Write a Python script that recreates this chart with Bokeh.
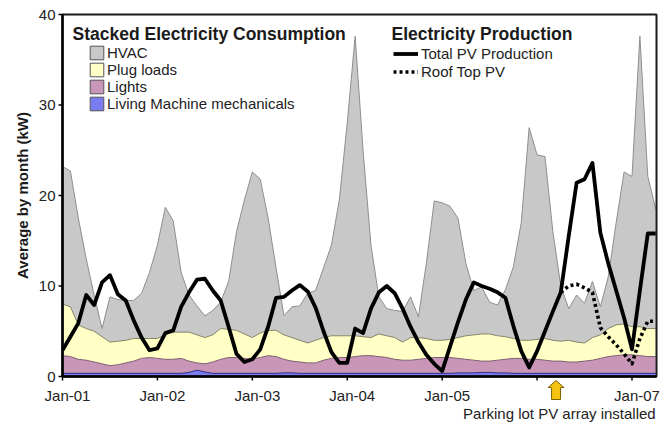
import math
from bokeh.plotting import figure
from bokeh.models import (ColumnDataSource, Range1d, Legend, LegendItem, Label)
from bokeh.core.properties import value
from bokeh.transform import stack
from bokeh.embed import file_html
from bokeh.resources import INLINE

# Monthly averages (kW), month index 0 = Jan-2001
months = list(range(76))

living = [0.35, 0.35, 0.35, 0.35, 0.35, 0.35, 0.35, 0.35, 0.35, 0.35, 0.35, 0.35,
          0.35, 0.35, 0.35, 0.35, 0.45, 0.70, 0.50, 0.35, 0.35, 0.35, 0.35, 0.35,
          0.35, 0.35, 0.35, 0.35, 0.40, 0.40, 0.35, 0.35, 0.35, 0.35, 0.35, 0.35,
          0.35, 0.35, 0.35, 0.35, 0.35, 0.35, 0.35, 0.35, 0.35, 0.35, 0.35, 0.35,
          0.35, 0.35, 0.40, 0.40, 0.40, 0.45, 0.45, 0.40, 0.40, 0.35, 0.35, 0.35,
          0.35, 0.35, 0.35, 0.35, 0.35, 0.35, 0.35, 0.35, 0.35, 0.35, 0.35, 0.35,
          0.35, 0.35, 0.35, 0.35]

lights = [1.95, 1.85, 1.55, 1.45, 1.25, 1.05, 0.85, 0.95, 1.15, 1.35, 1.65, 1.75,
          1.65, 1.55, 1.55, 1.65, 1.25, 0.80, 0.90, 1.25, 1.55, 1.75, 1.75, 1.65,
          1.55, 1.75, 1.95, 1.85, 1.50, 1.30, 1.25, 1.15, 1.15, 1.45, 1.65, 1.75,
          1.75, 1.85, 1.95, 1.95, 1.85, 1.75, 1.55, 1.45, 1.45, 1.55, 1.65, 1.75,
          1.75, 1.75, 1.60, 1.50, 1.40, 1.25, 1.25, 1.40, 1.50, 1.65, 1.65, 1.55,
          1.55, 1.45, 1.35, 1.35, 1.25, 1.25, 1.35, 1.45, 1.65, 1.85, 1.95, 2.05,
          2.05, 1.95, 1.85, 1.85]

plug = [5.7, 5.5, 3.8, 3.5, 3.4, 3.0, 2.6, 2.6, 2.5, 2.5, 2.2, 2.1,
        2.2, 2.7, 3.0, 2.9, 3.2, 3.1, 2.9, 3.0, 3.4, 3.1, 3.0, 2.7,
        2.4, 2.7, 2.8, 2.9, 2.7, 2.6, 2.4, 2.2, 2.5, 2.5, 2.5, 2.4,
        2.4, 2.3, 2.1, 2.0, 2.5, 2.4, 2.4, 2.0, 2.5, 2.4, 2.2, 1.9,
        1.9, 2.0, 2.3, 2.6, 2.8, 3.0, 3.0, 2.7, 2.5, 2.2, 2.0, 2.1,
        2.2, 2.4, 2.3, 2.2, 2.4, 2.2, 2.0, 2.5, 2.6, 3.1, 3.4, 3.4,
        3.1, 3.2, 3.1, 3.1]

hvac = [15.2, 15.0, 11.8, 7.7, 4.0, 0.9, 5.0, 4.6, 4.4, 4.2, 5.0, 7.3,
        10.3, 14.1, 12.3, 6.6, 4.1, 3.2, 2.4, 2.7, 2.9, 5.3, 10.9, 14.8,
        18.3, 17.0, 12.4, 6.9, 2.1, 3.4, 3.8, 5.5, 5.5, 7.7, 10.0, 15.0,
        23.5, 33.1, 20.6, 10.2, 4.1, 3.0, 3.0, 3.4, 4.5, 2.3, 8.3, 15.4,
        15.2, 14.7, 13.2, 8.0, 4.9, 5.2, 3.5, 3.4, 5.2, 7.9, 13.0, 23.5,
        20.4, 20.1, 12.0, 6.1, 3.5, 5.2, 4.4, 6.2, 3.1, 5.7, 11.3, 16.8,
        16.6, 32.1, 16.8, 13.2]

pv_total = [2.9, 4.4, 5.9, 9.0, 7.9, 10.4, 11.2, 9.1, 8.4, 6.2, 4.3, 2.9,
            3.1, 4.8, 5.1, 7.7, 9.3, 10.7, 10.8, 9.5, 8.4, 5.5, 2.5, 1.6,
            1.9, 3.0, 5.5, 8.7, 8.8, 9.5, 10.1, 9.4, 7.6, 5.0, 2.7, 1.5,
            1.5, 5.3, 4.8, 7.5, 9.3, 10.0, 9.2, 7.5, 5.5, 3.8, 2.4, 1.4,
            0.6, 3.3, 6.0, 8.5, 10.4, 10.0, 9.7, 9.3, 8.7, 5.6, 2.8, 1.0,
            2.8, 5.0, 7.2, 9.3, 15.5, 21.4, 21.8, 23.6, 15.9, 12.5, 9.5, 6.5,
            3.0, 9.5, 15.8, 15.8]

roof_months = [63, 64, 65, 66, 67, 68, 69, 70, 71, 72, 73, 74, 75]
pv_roof = [9.3, 10.0, 10.2, 9.8, 9.3, 5.4, 4.4, 3.5, 2.5, 1.4, 4.2, 6.1, 6.1]

tick_months = [0, 12, 24, 36, 48, 60, 72]
tick_labels = ["Jan-01", "Jan-02", "Jan-03", "Jan-04", "Jan-05", "", "Jan-07"]
y_ticks = [0, 10, 20, 30, 40]
y_tick_labels = ["0", "10", "20", "30", "40"]

install_month = 62.4   # parking lot array comes on line
note = "Parking lot PV array installed"
y_title = "Average by month (kW)"

layers = ["living", "lights", "plug", "hvac"]
fills = ["#7b7bf2", "#c996b8", "#ffffc6", "#c8c8c8"]
edges = ["#2a2a80", "#7d5d72", "#85856a", "#8e8e8e"]
names = ["Living Machine mechanicals", "Lights", "Plug loads", "HVAC"]

FONT = "Liberation Sans"
X_END, Y_END = 75.1, 40

# Page geometry: the plotting box sits inside the canvas with these margins.
# The canvas itself is the frame, so the axes, labels and the marker under the
# zero line are all drawn in data space and nothing gets clipped.
W, H = 662, 424
LEFT, RIGHT, TOP, BOTTOM = 62, 6, 14, 48
kx = (W - LEFT - RIGHT) / X_END      # px per month
ky = (H - TOP - BOTTOM) / Y_END      # px per kW


def px_x(n):
    return n / kx


def px_y(n):
    return n / ky


src = ColumnDataSource(dict(m=months, living=living, lights=lights, plug=plug, hvac=hvac))

p = figure(width=W, height=H, output_backend="svg", toolbar_location=None,
           x_range=Range1d(-px_x(LEFT), X_END + px_x(RIGHT)),
           y_range=Range1d(-px_y(BOTTOM), Y_END + px_y(TOP)),
           x_axis_location=None, y_axis_location=None,
           min_border_left=0, min_border_right=0, min_border_top=0, min_border_bottom=0,
           background_fill_color="white", border_fill_color="white")
p.grid.visible = False
p.outline_line_color = None

# stacked consumption areas with a thin edge on top of each layer
p.varea_stack(stackers=layers, x="m", color=fills, source=src)
for i, edge in enumerate(edges):
    p.line(x="m", y=stack(*layers[:i + 1]), source=src, line_color=edge, line_width=1)

# plotting box and the two main axis lines
p.quad(left=[0], right=[X_END], bottom=[0], top=[Y_END], fill_color=None,
       line_color="#1a1a1a", line_width=2)
p.segment(x0=[0, 0], y0=[0, 0], x1=[0, X_END], y1=[Y_END, 0],
          line_color="black", line_width=2.5)

# PV production
r_total = p.line(months, pv_total, line_color="black", line_width=3.8, line_join="round")
r_roof = p.line(roof_months, pv_roof, line_color="black", line_width=3.6,
                line_dash="3 3", line_join="round")

# value axis ticks, labels and title
p.segment(x0=[0] * len(y_ticks), y0=y_ticks, x1=[-px_x(4)] * len(y_ticks), y1=y_ticks,
          line_color="black", line_width=1.5)
p.text(x=[-px_x(7)] * len(y_ticks), y=y_ticks, text=y_tick_labels,
       text_font=value(FONT), text_font_size="15px", text_color="#222222",
       text_align="right", text_baseline="middle")
p.text(x=[-px_x(40)], y=[Y_END / 2], text=[y_title], angle=math.pi / 2,
       text_font=value(FONT), text_font_size="15px", text_font_style="bold",
       text_color="#1a1a1a", text_align="center", text_baseline="middle")

# month ticks and labels
p.segment(x0=tick_months, y0=[0] * len(tick_months), x1=tick_months,
          y1=[-px_y(4)] * len(tick_months), line_color="black", line_width=1.5)
p.text(x=tick_months, y=[-px_y(19)] * len(tick_months), text=tick_labels, x_offset=5,
       text_font=value(FONT), text_font_size="15px", text_color="#222222",
       text_align="center", text_baseline="middle")

# installation marker and note
hw, sw = px_x(8), px_x(4.5)
tip, base, tail = -px_y(4), -px_y(11), -px_y(23)
p.patch(x=[install_month, install_month + hw, install_month + sw, install_month + sw,
           install_month - sw, install_month - sw, install_month - hw],
        y=[tip, base, base, tail, tail, base, base],
        fill_color="#f5c211", line_color="#7a6200", line_width=1)
p.text(x=[X_END - 0.1], y=[-px_y(37)], text=[note],
       text_font=value(FONT), text_font_size="15px", text_color="#222222",
       text_align="right", text_baseline="middle")

# legend swatches for the consumption layers
swatches = []
for fc, name in zip(fills, names):
    r = p.quad(left=[float("nan")], right=[float("nan")], top=[float("nan")],
               bottom=[float("nan")], fill_color=fc, line_color="#555555", line_width=1)
    swatches.append(LegendItem(label=name, renderers=[r]))
swatches = swatches[::-1]

common = dict(orientation="vertical", padding=0, margin=0, border_line_alpha=0,
              background_fill_alpha=0, label_text_font=FONT, label_text_font_size="15px",
              label_text_color="#222222", label_height=15)
leg1 = Legend(items=swatches, location=(LEFT + 26, BOTTOM + 264), glyph_width=17,
              glyph_height=17, label_standoff=2, spacing=0, **common)
leg2 = Legend(items=[LegendItem(label="Total PV Production", renderers=[r_total]),
                     LegendItem(label="Roof Top PV", renderers=[r_roof])],
              location=(LEFT + 331, BOTTOM + 296), glyph_width=25, glyph_height=17,
              label_standoff=3, spacing=1, **common)
p.add_layout(leg1)
p.add_layout(leg2)

for txt, sx in [("Stacked Electricity Consumption", LEFT + 10),
                ("Electricity Production", LEFT + 329)]:
    p.add_layout(Label(x=sx, y=BOTTOM + 343, x_units="screen", y_units="screen", text=txt,
                       text_font=FONT, text_font_size="17.5px", text_font_style="bold",
                       text_color="#1a1a1a", text_baseline="middle"))

open("out.html", "w").write(file_html(p, INLINE))
